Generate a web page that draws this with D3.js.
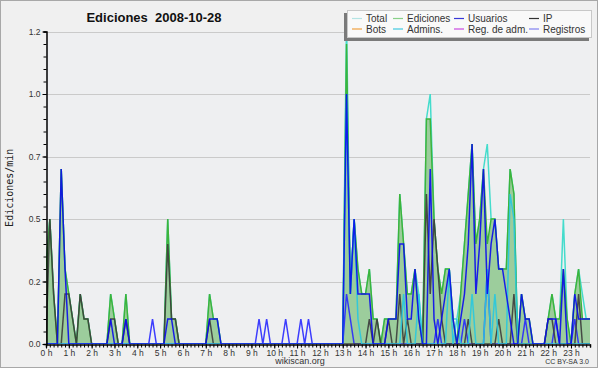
<!DOCTYPE html>
<html>
<head>
<meta charset="utf-8">
<script src="https://cdn.jsdelivr.net/npm/d3@7"></script>
<style>
body { margin: 0; background: #fff; }
svg { display: block; font-family: "Liberation Sans", Arial, sans-serif; }
</style>
</head>
<body>
<div id="chart"></div>
<script>
// one value every 10 minutes (edits per minute), 144 points
var ediciones = [
  0.3,0.5,0.2,0,0.7,0.3,0.2,0.1,0,0.2,0.1,0.1,      // 0h-2h
  0,0,0,0,0,0.2,0.1,0,0,0.2,0,0,                    // 2h-4h
  0,0,0,0,0,0,0,0,0.5,0.1,0.1,0,                    // 4h-6h
  0,0,0,0,0,0,0,0.2,0.1,0.1,0,0,                    // 6h-8h
  0,0,0,0,0,0,0,0,0,0,0,0,                          // 8h-10h
  0,0,0,0,0,0,0,0,0,0,0,0,                          // 10h-12h
  0,0,0,0,0,0,0,1.2,0.2,0.5,0.3,0.2,                // 12h-14h
  0.2,0.3,0.1,0.1,0,0.1,0.1,0.1,0.1,0.6,0.4,0.2,    // 14h-16h
  0.2,0.3,0.1,0,0.9,0.9,0.5,0.3,0.2,0.3,0.3,0.1,    // 16h-18h
  0,0.2,0.4,0.6,0.8,0.4,0.5,0.7,0.4,0.5,0.5,0.3,    // 18h-20h
  0.3,0.3,0.7,0.6,0,0.2,0.1,0.1,0,0,0,0,            // 20h-22h
  0.1,0.2,0.1,0.1,0.3,0.1,0,0.2,0.3,0.1,0.1,0.1     // 22h-24h
];
var total = [
  0.3,0.5,0.2,0,0.7,0.3,0.2,0.1,0,0.2,0.1,0.1,
  0,0,0,0,0,0.2,0.1,0,0,0.2,0,0,
  0,0,0,0,0,0,0,0,0.5,0.1,0.1,0,
  0,0,0,0,0,0,0,0.2,0.1,0.1,0,0,
  0,0,0,0,0,0,0,0,0,0,0,0,
  0,0,0,0,0,0,0,0,0,0,0,0,
  0,0,0,0,0,0,0,1.3,0.2,0.5,0.3,0.2,
  0.2,0.3,0.1,0.1,0,0.1,0.1,0.1,0.1,0.6,0.4,0.2,
  0.2,0.3,0.2,0,0.9,1.0,0.5,0.3,0.2,0.3,0.3,0.1,
  0.1,0.2,0.4,0.6,0.8,0.4,0.5,0.7,0.8,0.5,0.5,0.3,
  0.3,0.3,0.7,0.6,0,0.2,0.1,0.1,0,0,0,0,
  0.1,0.2,0.1,0.1,0.5,0.1,0,0.2,0.3,0.2,0.1,0.1
];
var usuarios = [
  0,0,0,0,0.7,0.3,0,0,0,0,0,0,
  0,0,0,0,0,0.1,0,0,0,0.1,0,0,
  0,0,0,0,0,0,0,0,0.1,0.1,0,0,
  0,0,0,0,0,0,0,0.1,0.1,0.1,0,0,
  0,0,0,0,0,0,0,0,0,0,0,0,
  0,0,0,0,0,0,0,0,0,0,0,0,
  0,0,0,0,0,0,0,1.0,0.2,0.5,0.2,0.2,
  0.2,0.2,0,0,0,0,0.1,0.1,0.1,0.4,0.4,0.1,
  0.1,0.3,0.1,0,0,0.7,0.1,0,0.1,0.2,0.3,0.1,
  0,0.1,0.2,0.4,0.8,0.2,0.4,0.7,0.2,0.4,0.5,0.3,
  0.3,0.2,0.1,0,0,0.2,0.1,0.1,0,0,0,0,
  0.1,0.1,0.1,0,0.3,0,0,0.2,0.1,0.1,0.1,0.1
];
var ip = [
  0,0.5,0.2,0,0,0.2,0.2,0.1,0,0.2,0.1,0.1,
  0,0,0,0,0,0.1,0.1,0,0,0.1,0,0,
  0,0,0,0,0,0,0,0,0.4,0.1,0.1,0,
  0,0,0,0,0,0,0,0.1,0,0,0,0,
  0,0,0,0,0,0,0,0,0,0,0,0,
  0,0,0,0,0,0,0,0,0,0,0,0,
  0,0,0,0,0,0,0,0,0,0,0,0,
  0,0.1,0,0.1,0,0,0.1,0,0,0.2,0,0.1,
  0,0,0,0,0.6,0.2,0.5,0.3,0.1,0,0,0,
  0,0,0,0.1,0,0,0,0,0,0,0,0.1,
  0,0,0,0.2,0,0,0,0,0,0,0,0,
  0.1,0.1,0,0,0,0,0,0,0.2,0,0,0
];
var admins = [
  0,0,0,0,0,0,0,0,0,0,0,0,
  0,0,0,0,0,0,0,0,0,0,0,0,
  0,0,0,0,0,0,0,0,0,0,0,0,
  0,0,0,0,0,0,0,0,0,0,0,0,
  0,0,0,0,0,0,0,0,0,0,0,0,
  0,0,0,0,0,0,0,0,0,0,0,0,
  0,0,0,0,0,0,0,1.0,0.2,0.5,0.1,0,
  0,0,0,0,0,0,0,0,0,0,0.2,0,
  0,0,0.2,0,0,0,0,0,0,0,0.3,0,
  0.1,0,0,0,0.2,0,0,0,0.3,0,0.2,0,
  0,0,0.6,0.5,0,0,0,0,0,0,0,0,
  0,0,0,0,0,0,0,0,0,0,0,0
];
var registros = [
  0,0,0,0,0,0,0,0,0,0,0,0,
  0,0,0,0,0,0,0,0,0,0,0,0,
  0,0,0,0,0.1,0,0,0,0,0,0,0,
  0,0,0,0,0,0,0,0,0,0,0,0,
  0,0,0,0,0,0,0,0,0.1,0,0.1,0,
  0,0,0,0.1,0,0,0,0.1,0,0.1,0,0,
  0,0,0,0,0,0,0,0.2,0.1,0,0,0,
  0,0,0,0,0,0,0,0,0,0,0,0,
  0,0,0,0,0,0,0,0.1,0,0,0,0,
  0,0,0.1,0,0,0,0,0,0.3,0,0,0,
  0,0,0,0,0,0,0.1,0,0,0,0,0,
  0,0,0.1,0,0,0,0,0.1,0,0,0,0
];

var yTicks = [0, 0.25, 0.5, 0.75, 1.0, 1.25];
var yTickLabels = ['0.0', '0.2', '0.5', '0.7', '1.0', '1.2'];
var hourLabels = d3.range(0, 24).map(function(h){ return h + ' h'; });

var legendItems = [
  {name: 'Total', color: '#b4e4e4'},
  {name: 'Ediciones', color: '#88d088'},
  {name: 'Usuarios', color: '#3838d8'},
  {name: 'IP', color: '#333333'},
  {name: 'Bots', color: '#f0a040'},
  {name: 'Admins.', color: '#40c8e0'},
  {name: 'Reg. de adm.', color: '#c848e0'},
  {name: 'Registros', color: '#8080f0'}
];

(function(){
var plotLeft = 46, plotRight = 590, plotTop = 31.5, plotBottom = 344;

var x = d3.scaleLinear().domain([0, 1430]).range([plotLeft, plotRight]);
var y = d3.scaleLinear().domain([0, 1.25]).range([plotBottom, plotTop]);

var svg = d3.select('#chart').append('svg')
    .attr('width', 600)
    .attr('height', 370);

svg.append('rect')
    .attr('x', 0.5).attr('y', 0.5)
    .attr('width', 597).attr('height', 367)
    .attr('fill', '#f0f0f0')
    .attr('stroke', '#a8a8a8');

svg.append('rect')
    .attr('x', plotLeft).attr('y', plotTop)
    .attr('width', plotRight - plotLeft).attr('height', plotBottom - plotTop)
    .attr('fill', '#eeeff1');

// grid
svg.append('g').selectAll('line')
    .data(yTicks.slice(1))
    .enter().append('line')
    .attr('x1', plotLeft).attr('x2', plotRight)
    .attr('y1', function(d){ return Math.round(y(d)) + 0.5; })
    .attr('y2', function(d){ return Math.round(y(d)) + 0.5; })
    .attr('stroke', '#cacaca');

svg.append('defs').append('clipPath').attr('id', 'plot')
  .append('rect')
    .attr('x', plotLeft).attr('y', plotTop)
    .attr('width', plotRight - plotLeft).attr('height', plotBottom - plotTop);

var plot = svg.append('g').attr('clip-path', 'url(#plot)');

var xi = function(d, i){ return x(i * 10); };

var line = d3.line().x(xi).y(function(d){ return y(d); });
var area = d3.area().x(xi).y0(y(0)).y1(function(d){ return y(d); });

plot.append('path')
    .attr('d', line(total))
    .attr('fill', 'none')
    .attr('stroke', '#44dccc')
    .attr('stroke-width', 1.5);

plot.append('path')
    .attr('d', area(ediciones))
    .attr('fill', '#9ccd9c')
    .attr('stroke', 'none');

plot.append('path')
    .attr('d', line(ediciones))
    .attr('fill', 'none')
    .attr('stroke', '#3cb43c')
    .attr('stroke-width', 1.5);

var series = [
  {data: registros, color: '#2828ff'},
  {data: ip, color: '#3c3c3c'},
  {data: admins, color: '#28c8e0'},
  {data: usuarios, color: '#0a0aee'}
];

series.forEach(function(s){
  plot.append('path')
      .attr('d', line(s.data))
      .attr('fill', 'none')
      .attr('stroke', s.color)
      .attr('stroke-width', 1.5)
      .attr('stroke-opacity', 0.9);
});

// y axis
var yAxis = d3.axisLeft(y)
    .tickValues(yTicks)
    .tickFormat(function(d, i){ return yTickLabels[i]; })
    .tickSize(4)
    .tickPadding(2);

var yMinor = d3.axisLeft(y)
    .tickValues(d3.range(0, 26).map(function(k){ return k * 0.05; }))
    .tickFormat('')
    .tickSize(3);

var yg = svg.append('g').attr('transform', 'translate(' + (plotLeft + 0.5) + ',0)');
yMinor(yg);
var yg2 = svg.append('g').attr('transform', 'translate(' + (plotLeft + 0.5) + ',0)');
yAxis(yg2);
yg2.select('.domain').remove();

// x axis
var xAxis = d3.axisBottom(x)
    .tickValues(d3.range(0, 24).map(function(h){ return h * 60; }))
    .tickFormat(function(d, i){ return hourLabels[i]; })
    .tickSize(4)
    .tickPadding(1);

var xMinor = d3.axisBottom(x)
    .tickValues(d3.range(0, 144).map(function(k){ return k * 10; }))
    .tickFormat('')
    .tickSize(3);

var xg = svg.append('g').attr('transform', 'translate(0,' + (plotBottom + 0.5) + ')');
xMinor(xg);
var xg2 = svg.append('g').attr('transform', 'translate(0,' + (plotBottom + 0.5) + ')');
xAxis(xg2);
xg2.select('.domain').remove();

[yg, yg2, xg, xg2].forEach(function(g){
  g.selectAll('path').attr('stroke', '#000').attr('stroke-width', 1.5);
  g.selectAll('line').attr('stroke', '#000');
  g.selectAll('text')
      .attr('fill', '#333')
      .style('font-family', '"Liberation Sans", Arial, sans-serif')
      .style('font-size', '8.5px');
});

// y axis title
svg.append('text')
    .attr('transform', 'translate(13,' + ((plotTop + plotBottom) / 2) + ') rotate(-90)')
    .attr('text-anchor', 'middle')
    .style('font-family', '"DejaVu Sans Mono", monospace')
    .style('font-size', '10px')
    .attr('fill', '#222')
    .text('Ediciones/min');

// title
svg.append('text')
    .attr('x', 154).attr('y', 22)
    .attr('text-anchor', 'middle')
    .style('font-size', '13px')
    .style('font-weight', 'bold')
    .style('white-space', 'pre')
    .attr('fill', '#111')
    .text('Ediciones  2008-10-28');

// legend
svg.append('rect')
    .attr('x', 344).attr('y', 13)
    .attr('width', 245).attr('height', 28)
    .attr('fill', '#7a7a7a');
svg.append('rect')
    .attr('x', 347.5).attr('y', 10.5)
    .attr('width', 244).attr('height', 27)
    .attr('fill', '#f9f9f9')
    .attr('stroke', '#c8c8c8');

var colX = [352, 393, 454, 529];
var legend = svg.append('g').selectAll('g')
    .data(legendItems)
    .enter().append('g')
    .attr('transform', function(d, i){
      return 'translate(' + colX[i % 4] + ',' + (i < 4 ? 18.5 : 29) + ')';
    });
legend.append('line')
    .attr('x1', 0).attr('x2', 10)
    .attr('stroke', function(d){ return d.color; })
    .attr('stroke-width', 1.2);
legend.append('text')
    .attr('x', 14).attr('y', 3.5)
    .style('font-size', '10px')
    .attr('fill', '#333')
    .text(function(d){ return d.name; });

// footer
svg.append('text')
    .attr('x', 300).attr('y', 364)
    .attr('text-anchor', 'middle')
    .style('font-size', '9px')
    .attr('fill', '#333')
    .text('wikiscan.org');

svg.append('text')
    .attr('x', 589).attr('y', 364)
    .attr('text-anchor', 'end')
    .style('font-size', '7px')
    .attr('fill', '#333')
    .text('CC BY-SA 3.0');
})();
</script>
</body>
</html>
